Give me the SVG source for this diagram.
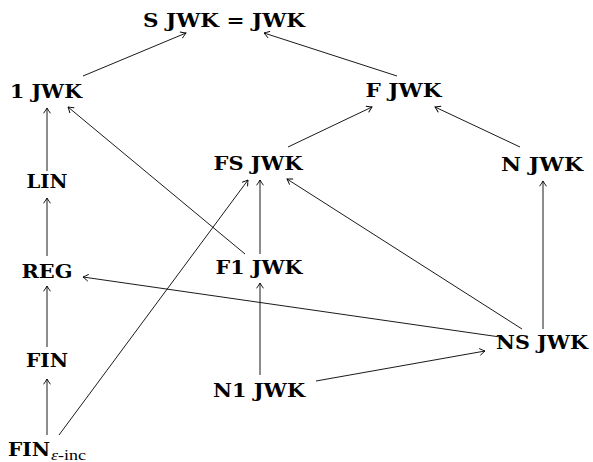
<svg xmlns="http://www.w3.org/2000/svg" width="593" height="462" viewBox="0 0 593 462">
<style>
.n{font-family:"DejaVu Serif","Liberation Serif",serif;font-weight:bold;font-size:19px;fill:#000;text-anchor:middle}
.s{font-family:"Liberation Serif",serif;font-size:15px;fill:#000}
.e line{stroke:#000;stroke-width:0.9;fill:none;marker-end:url(#ah)}
</style>
<defs>
<marker id="ah" viewBox="-6 -4 7 8" markerWidth="7" markerHeight="8" refX="0" refY="0" orient="auto" markerUnits="userSpaceOnUse">
<path d="M-5,-3.2 Q-1.5,-0.8 0,0 Q-1.5,0.8 -5,3.2" fill="none" stroke="#000" stroke-width="0.9" stroke-linecap="round"/>
</marker>
</defs>
<g class="e" id="edges">
<line x1="83" y1="76" x2="186" y2="33"/>
<line x1="397" y1="76" x2="264" y2="33"/>
<line x1="288" y1="147" x2="372" y2="107"/>
<line x1="520" y1="147" x2="435" y2="107"/>
<line x1="47" y1="171" x2="47" y2="108"/>
<line x1="245" y1="254" x2="68" y2="107"/>
<line x1="260" y1="254" x2="260" y2="180"/>
<line x1="522" y1="329" x2="287" y2="179"/>
<line x1="543" y1="329" x2="543" y2="181"/>
<line x1="47" y1="256" x2="47" y2="198"/>
<line x1="500" y1="337" x2="83" y2="277"/>
<line x1="260" y1="375" x2="260" y2="283"/>
<line x1="316" y1="381" x2="485" y2="351"/>
<line x1="47" y1="347" x2="47" y2="286"/>
<line x1="47" y1="435" x2="47" y2="379"/>
<line x1="59" y1="435" x2="248" y2="180"/>
</g>
<g id="sjwk"><text class="n" x="224" y="27" textLength="162" lengthAdjust="spacingAndGlyphs">S JWK = JWK</text></g>
<g id="onejwk"><text class="n" x="46" y="98" textLength="72" lengthAdjust="spacingAndGlyphs">1 JWK</text></g>
<g id="fjwk"><text class="n" x="403.5" y="97" textLength="76" lengthAdjust="spacingAndGlyphs">F JWK</text></g>
<g id="fsjwk"><text class="n" x="258" y="170" textLength="89" lengthAdjust="spacingAndGlyphs">FS JWK</text></g>
<g id="njwk"><text class="n" x="542" y="171" textLength="82" lengthAdjust="spacingAndGlyphs">N JWK</text></g>
<g id="lin"><text class="n" x="47" y="188" textLength="41" lengthAdjust="spacingAndGlyphs">LIN</text></g>
<g id="f1jwk"><text class="n" x="259" y="274" textLength="87" lengthAdjust="spacingAndGlyphs">F1 JWK</text></g>
<g id="reg"><text class="n" x="47" y="278" textLength="51" lengthAdjust="spacingAndGlyphs">REG</text></g>
<g id="nsjwk"><text class="n" x="542" y="349" textLength="92" lengthAdjust="spacingAndGlyphs">NS JWK</text></g>
<g id="fin"><text class="n" x="47" y="367" textLength="42" lengthAdjust="spacingAndGlyphs">FIN</text></g>
<g id="n1jwk"><text class="n" x="259" y="397" textLength="92" lengthAdjust="spacingAndGlyphs">N1 JWK</text></g>
<g id="fineps"><text class="n" x="29" y="456" textLength="42" lengthAdjust="spacingAndGlyphs">FIN</text><text class="s" x="51" y="460" textLength="35" lengthAdjust="spacingAndGlyphs"><tspan font-style="italic">ε</tspan>-inc</text></g>
</svg>
